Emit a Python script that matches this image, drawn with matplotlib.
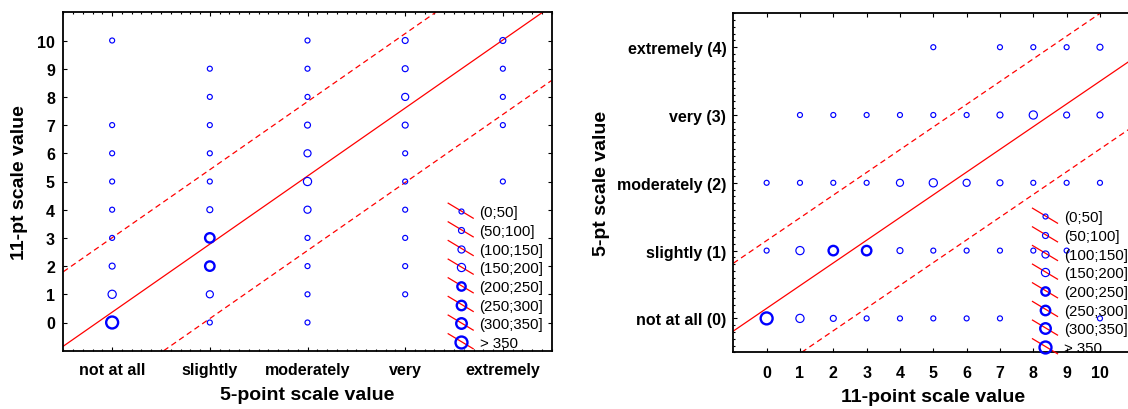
import numpy as np
import matplotlib
matplotlib.use("Agg")
import matplotlib.pyplot as plt
from matplotlib.lines import Line2D
from matplotlib.legend_handler import HandlerBase
from matplotlib.ticker import MultipleLocator

plt.rcParams['font.family'] = ['Liberation Sans', 'DejaVu Sans']

# ---------------- data ----------------
five_pt_labels = ['not at all', 'slightly', 'moderately', 'very', 'extremely']
five_pt_labels_num = ['not at all (0)', 'slightly (1)', 'moderately (2)', 'very (3)', 'extremely (4)']
eleven_pt_ticks = list(range(11))

bin_labels = ['(0;50]', '(50;100]', '(100;150]', '(150;200]',
              '(200;250]', '(250;300]', '(300;350]', '> 350']
bin_edges = [50, 100, 150, 200, 250, 300, 350]

# left panel: x = 5-point category index, y = 11-point value, n = estimated count
left_x = [0]*9 + [1]*10 + [2]*11 + [3]*10 + [4]*5
left_y = [10, 7, 6, 5, 4, 3, 2, 1, 0,
          9, 8, 7, 6, 5, 4, 3, 2, 1, 0,
          10, 9, 8, 7, 6, 5, 4, 3, 2, 1, 0,
          10, 9, 8, 7, 6, 5, 4, 3, 2, 1,
          10, 9, 8, 7, 5]
left_n = [20, 20, 20, 20, 20, 20, 60, 170, 380,
          20, 20, 20, 20, 20, 60, 270, 270, 120, 20,
          20, 20, 20, 60, 120, 170, 120, 20, 20, 20, 20,
          60, 60, 120, 60, 20, 20, 20, 20, 20, 20,
          60, 20, 20, 20, 20]

# right panel: x = 11-point value, y = 5-point category index
right_x = [5, 7, 8, 9, 10,
           1, 2, 3, 4, 5, 6, 7, 8, 9, 10,
           0, 1, 2, 3, 4, 5, 6, 7, 8, 9, 10,
           0, 1, 2, 3, 4, 5, 6, 7, 8, 9,
           0, 1, 2, 3, 4, 5, 6, 7, 10]
right_y = [4]*5 + [3]*10 + [2]*11 + [1]*10 + [0]*9
right_n = [20, 20, 20, 20, 60,
           20, 20, 20, 20, 20, 20, 60, 170, 60, 60,
           20, 20, 20, 20, 120, 170, 120, 60, 20, 20, 20,
           20, 170, 270, 270, 60, 20, 20, 20, 20, 20,
           380, 170, 60, 20, 20, 20, 20, 20, 20]

# regression lines (intercept, slope, half-width of prediction band)
left_fit = (0.366, 2.413, 2.64)
right_fit = (0.148, 0.335, 1.0)

# ---------------- styles ----------------
BLUE = '#0000ff'
RED = '#ff0000'
marker_ms = [3.6, 4.3, 5.1, 5.9, 6.0, 6.8, 7.6, 8.6]
marker_lw = [0.85, 0.85, 0.85, 0.85, 1.7, 1.7, 1.7, 1.7]

W, H = 1128, 410
fig = plt.figure(figsize=(W/100, H/100), dpi=100)

def fpos(l, t, r, b):
    return [l/W, 1 - b/H, (r - l)/W, (b - t)/H]

axL = fig.add_axes(fpos(63.3, 13.3, 551.7, 351.7))
axR = fig.add_axes(fpos(733.3, 14.3, 1133.3, 353.3))

def draw_points(ax, xs, ys, ns):
    xs = np.asarray(xs); ys = np.asarray(ys)
    bins = np.digitize(ns, bin_edges, right=True)
    for b in range(len(bin_labels)):
        m = bins == b
        if m.any():
            ax.scatter(xs[m], ys[m], s=marker_ms[b]**2, facecolors='none',
                       edgecolors=BLUE, linewidths=marker_lw[b], zorder=3)

def draw_fit(ax, fit):
    a, k, w = fit
    ax.axline((0, a), slope=k, color=RED, lw=0.9, zorder=2)
    for off in (w, -w):
        ax.axline((0, a + off), slope=k, color=RED, lw=0.9,
                  linestyle=(0, (4.5, 3)), zorder=2)

class DiagHandler(HandlerBase):
    def create_artists(self, legend, orig_handle, xdescent, ydescent,
                       width, height, fontsize, trans):
        cx = width / 2 - xdescent
        cy = height / 2 - ydescent
        line = Line2D([cx - 9.0, cx + 9.0], [cy + 5.8, cy - 5.0], color=RED,
                      lw=0.9, transform=trans)
        mk = Line2D([cx], [cy], marker='o', ls='none',
                    ms=orig_handle.get_markersize(),
                    mew=orig_handle.get_markeredgewidth(),
                    mfc='none', mec=BLUE, transform=trans)
        return [line, mk]

def add_legend(ax, x_px, top_px):
    handles = [Line2D([], [], marker='o', ls='none', ms=marker_ms[i],
                      mew=marker_lw[i], mfc='none', mec=BLUE)
               for i in range(len(bin_labels))]
    fs = 10.8
    leg = ax.legend(handles, bin_labels, handler_map={Line2D: DiagHandler()},
                    loc='upper left', bbox_to_anchor=(x_px / W, 1 - top_px / H),
                    bbox_transform=fig.transFigure, frameon=False,
                    fontsize=fs, handlelength=18 / fs, handletextpad=0.42,
                    labelspacing=0.31, borderpad=0, borderaxespad=0)
    leg.set_zorder(5)

def style_axes(ax):
    for s in ax.spines.values():
        s.set_linewidth(1.3)
    ax.tick_params(which='both', direction='in', width=0.8, labelsize=11.5)
    ax.tick_params(which='major', length=2.6)
    ax.tick_params(which='minor', length=1.5)
    for lab in ax.get_xticklabels() + ax.get_yticklabels():
        lab.set_fontweight('bold')

# ---------- left panel ----------
draw_points(axL, left_x, left_y, left_n)
draw_fit(axL, left_fit)
axL.set_xlim(-0.5, 4.5)
axL.set_ylim(-1, 11)
axL.set_xticks(range(len(five_pt_labels)), five_pt_labels)
axL.set_yticks(eleven_pt_ticks, [str(v) for v in eleven_pt_ticks])
axL.xaxis.set_minor_locator(MultipleLocator(0.1))
axL.tick_params(top=True, right=True, which='both')
axL.tick_params(axis='y', which='minor', left=False, right=False)
axL.tick_params(axis='x', pad=8)
axL.tick_params(axis='y', pad=6)
style_axes(axL)
add_legend(axL, 448.2, 206.5)

# ---------- right panel ----------
draw_points(axR, right_x, right_y, right_n)
draw_fit(axR, right_fit)
axR.set_xlim(-1, 11)
axR.set_ylim(-0.5, 4.5)
axR.set_xticks(eleven_pt_ticks, [str(v) for v in eleven_pt_ticks])
axR.set_yticks(range(len(five_pt_labels_num)), five_pt_labels_num)
axR.yaxis.set_minor_locator(MultipleLocator(0.1))
axR.tick_params(top=True, right=False, which='both')
axR.tick_params(axis='x', which='minor', top=False, bottom=False)
axR.spines['right'].set_visible(False)
axR.tick_params(axis='x', pad=9)
axR.tick_params(axis='y', pad=5)
style_axes(axR)
add_legend(axR, 1032.5, 211.5)

# ---------- axis titles ----------
fig.text(19.5 / W, 1 - 182.5 / H, '11-pt scale value', rotation=90, ha='center',
         va='center', fontsize=14, fontweight='bold')
fig.text(307.5 / W, 1 - 396 / H, '5-point scale value', ha='center', va='center',
         fontsize=14, fontweight='bold')
fig.text(601 / W, 1 - 183.8 / H, '5-pt scale value', rotation=90, ha='center',
         va='center', fontsize=14, fontweight='bold')
fig.text(933 / W, 1 - 398 / H, '11-point scale value', ha='center', va='center',
         fontsize=14, fontweight='bold')

fig.savefig('out.png', dpi=100)
